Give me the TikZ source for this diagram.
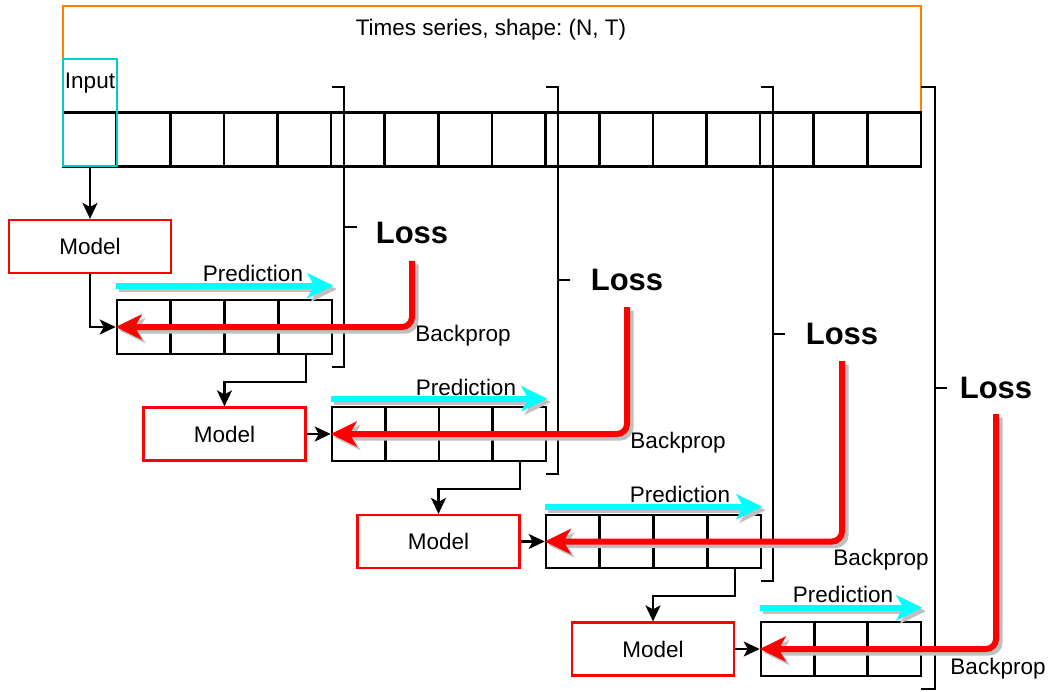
\documentclass[tikz,border=0pt]{standalone}
\usepackage{fontspec}
\setmainfont{Liberation Sans}
\usetikzlibrary{arrows.meta,calc}
\frenchspacing

\definecolor{serieorange}{HTML}{FF8000}
\definecolor{inputcyan}{HTML}{00CCCC}
\definecolor{predcyan}{HTML}{00FFFF}
\definecolor{gradred}{HTML}{FF0000}
\definecolor{shadowgray}{HTML}{C0C0C0}

\begin{document}
\begin{tikzpicture}[x=1pt,y=-1pt,
  txt/.style={font=\fontsize{22.5}{27}\selectfont, inner sep=0pt},
  losstxt/.style={font=\fontsize{31}{37}\selectfont\bfseries, inner sep=0pt},
  model/.style={draw=gradred, line width=2.2pt, minimum width=162pt, minimum height=53pt,
                inner sep=0pt, font=\fontsize{22.5}{27}\selectfont},
  cellrow/.style={draw=black, line width=2.6pt, minimum height=54pt, inner sep=0pt},
  divider/.style={line width=2.6pt},
  flow/.style={line width=2.2pt, -{Stealth[length=16pt,width=15pt,inset=4pt]}},
  fat/.style={line width=6pt, rounded corners=10pt,
              -{Stealth[length=26pt,width=25pt,inset=7pt]}},
  pred/.style={fat, draw=predcyan},
  back/.style={fat, draw=gradred},
  shade/.style={fat, draw=shadowgray},
  bracket/.style={line width=2.8pt},
]
\useasboundingbox (0,0) rectangle (1048,692);

% whole time series
\node[draw=serieorange, line width=2.4pt, minimum width=858pt, minimum height=107pt,
      inner sep=0pt] (series) at (492,59.5) {};
\node[txt, anchor=base] (title) at (491,36) {Times series, shape: (N, T)};

\node[cellrow, minimum width=858pt] (row) at (492,139.5) {};
\foreach \i in {1,...,15}
  \draw[divider] ({63+\i*53.625},113) -- ++(0,53);

\node[draw=inputcyan, line width=2.4pt, minimum width=54pt, minimum height=107pt,
      inner sep=0pt] (in) at (90,112.5) {};
\node[txt, anchor=base] (intxt) at (90,89) {Input};

% loss brackets
\draw[bracket] (332,87) -- (344,87) -- (344,367) -- (332,367) (344,227) -- (357,227);
\draw[bracket] (546,87) -- (558,87) -- (558,474) -- (546,474) (558,280) -- (570,280);
\draw[bracket] (761,87) -- (773,87) -- (773,581) -- (761,581) (773,334) -- (785,334);
\draw[bracket] (921,87) -- (935,87) -- (935,689) -- (921,689) (935,388) -- (947,388);

\node[losstxt] (loss1) at (412,233) {Loss};
\node[losstxt] (loss2) at (627,280) {Loss};
\node[losstxt] (loss3) at (842,334) {Loss};
\node[losstxt] (loss4) at (996,388) {Loss};

% models
\node[model] (m1) at (90,246.5) {Model};
\node[model] (m2) at (224.5,434) {Model};
\node[model] (m3) at (438.5,541.5) {Model};
\node[model] (m4) at (653,649) {Model};

% prediction windows
\node[cellrow, minimum width=215pt] (p1) at (224.5,327) {};
\foreach \i in {1,2,3} \draw[divider] ({117+\i*53.75},300) -- ++(0,54);
\node[cellrow, minimum width=214pt] (p2) at (439,434) {};
\foreach \i in {1,2,3} \draw[divider] ({332+\i*53.5},407) -- ++(0,54);
\node[cellrow, minimum width=215pt, minimum height=53pt] (p3) at (653.5,541.5) {};
\foreach \i in {1,2,3} \draw[divider] ({546+\i*53.75},515) -- ++(0,53);
\node[cellrow, minimum width=160pt] (p4) at (841,649) {};
\foreach \i in {1,2} \draw[divider] ({761+\i*53.33},622) -- ++(0,54);

% data flow
\draw[flow] (in.south) -- (m1.north);
\draw[flow] (m1.south) |- (p1.west);
\draw[flow] ($(p1.south east)+(-27,0)$) -- ++(0,27) -| (m2.north);
\draw[flow] (m2.east) -- (p2.west);
\draw[flow] ($(p2.south east)+(-27,0)$) -- ++(0,27) -| (m3.north);
\draw[flow] (m3.east) -- (p3.west);
\draw[flow] ($(p3.south east)+(-27,0)$) -- ++(0,27) -| (m4.north);
\draw[flow] (m4.east) -- (p4.west);

% start points of the backprop arrows
\coordinate (b1) at (412,261);
\coordinate (b2) at (627,307);
\coordinate (b3) at (842,361);
\coordinate (b4) at (996,414);

% drop shadows of the thick arrows
\begin{scope}[transform canvas={shift={(3.5pt,-3.5pt)}}]
  \draw[shade] ($(p1.north west)+(0,-13)$) -- ($(p1.north east)+(0,-13)$);
  \draw[shade] ($(p2.north west)+(0,-7)$) -- ($(p2.north east)+(0,-7)$);
  \draw[shade] ($(p3.north west)+(0,-7)$) -- ($(p3.north east)+(0,-7)$);
  \draw[shade] ($(p4.north west)+(0,-13)$) -- ($(p4.north east)+(0,-13)$);
  \draw[shade] (b1) |- (p1.west);
  \draw[shade] (b2) |- (p2.west);
  \draw[shade] (b3) |- (p3.west);
  \draw[shade] (b4) |- (p4.west);
\end{scope}

% prediction arrows
\draw[pred] ($(p1.north west)+(0,-13)$) -- ($(p1.north east)+(0,-13)$);
\draw[pred] ($(p2.north west)+(0,-7)$) -- ($(p2.north east)+(0,-7)$);
\draw[pred] ($(p3.north west)+(0,-7)$) -- ($(p3.north east)+(0,-7)$);
\draw[pred] ($(p4.north west)+(0,-13)$) -- ($(p4.north east)+(0,-13)$);
\node[txt, anchor=base] (pl1) at (253,281) {Prediction};
\node[txt, anchor=base] (pl2) at (466,395) {Prediction};
\node[txt, anchor=base] (pl3) at (680,502) {Prediction};
\node[txt, anchor=base] (pl4) at (843,602) {Prediction};

% backprop arrows
\draw[back] (b1) |- (p1.west);
\draw[back] (b2) |- (p2.west);
\draw[back] (b3) |- (p3.west);
\draw[back] (b4) |- (p4.west);
\node[txt, anchor=base] (bl1) at (463,341) {Backprop};
\node[txt, anchor=base] (bl2) at (678,448) {Backprop};
\node[txt, anchor=base] (bl3) at (881,565) {Backprop};
\node[txt, anchor=base] (bl4) at (998,674) {Backprop};
\end{tikzpicture}
\end{document}
